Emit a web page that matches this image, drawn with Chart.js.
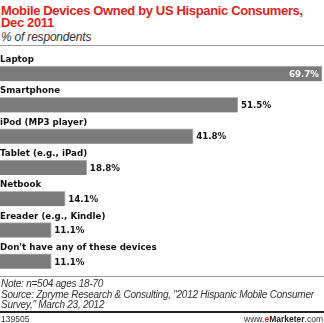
<!DOCTYPE html>
<html>
<head>
<meta charset="utf-8">
<script src="https://cdn.jsdelivr.net/npm/chart.js@4.4.0/dist/chart.umd.min.js"></script>
<style>
  body { margin: 0; background: #fff; width: 324px; height: 323px; position: relative; overflow: hidden; font-family: Verdana, "DejaVu Sans", sans-serif; }
  .abs { position: absolute; white-space: nowrap; }
  #title { left: 1px; top: 5px; color: #e2231a; font: bold 13px "Liberation Sans", Arial, sans-serif; line-height: 12px; letter-spacing: -0.35px; }
  #subtitle { left: 1px; top: 30px; color: #333; font: italic 12px "Liberation Sans", Arial, sans-serif; letter-spacing: -0.2px; }
  #topline { left: 0; top: 45px; width: 324px; height: 1px; background: #999; }
  #chartBox { left: 0; top: 45px; width: 324px; height: 232px; }
  #footline { left: 0; top: 276px; width: 324px; height: 1px; background: #999; }
  #note { left: 1px; top: 279px; color: #333; font: italic 10px "Liberation Sans", Arial, sans-serif; line-height: 10.5px; letter-spacing: -0.25px; }
  #blackline { left: 0; top: 311px; width: 324px; height: 2px; background: #222; }
  #code { left: 1px; top: 314px; color: #333; font: 8.5px "Liberation Sans", Arial, sans-serif; }
  #brand { right: 1px; top: 314px; color: #333; font: 8.5px "Liberation Sans", Arial, sans-serif; }
  #brand b { color: #222; }
  #brand .e { color: #e2231a; font-weight: bold; }
</style>
</head>
<body>
<div class="abs" id="title">Mobile Devices Owned by US Hispanic Consumers,<br>Dec 2011</div>
<div class="abs" id="subtitle">% of respondents</div>
<div class="abs" id="topline"></div>
<div class="abs" id="chartBox"><canvas id="chart"></canvas></div>
<div class="abs" id="footline"></div>
<div class="abs" id="note">Note: n=504 ages 18-70<br>Source: Zpryme Research &amp; Consulting, "2012 Hispanic Mobile Consumer<br>Survey," March 23, 2012</div>
<div class="abs" id="blackline"></div>
<div class="abs" id="code">139505</div>
<div class="abs" id="brand">www.<span class="e">e</span><b>Marketer</b>.com</div>
<script>
// данные из графика
const categories = [
    'Laptop',
    'Smartphone',
    'iPod (MP3 player)',
    'Tablet (e.g., iPad)',
    'Netbook',
    'Ereader (e.g., Kindle)',
    "Don't have any of these devices"
];
const values = [69.7, 51.5, 41.8, 18.8, 14.1, 11.1, 11.1];

const LABEL_FONT = 'bold 8.7px "DejaVu Sans", Verdana, sans-serif';

// подписи категорий над столбцами и значения справа
const barLabels = {
    id: 'barLabels',
    afterDatasetsDraw(chart) {
        const ctx = chart.ctx;
        const meta = chart.getDatasetMeta(0);
        ctx.save();
        ctx.font = LABEL_FONT;
        meta.data.forEach((bar, i) => {
            const h = bar.height;
            ctx.fillStyle = '#111';
            ctx.textAlign = 'left';
            ctx.textBaseline = 'alphabetic';
            ctx.fillText(categories[i], 0, bar.y - h / 2 - 4);

            ctx.textBaseline = 'middle';
            const text = values[i].toFixed(1) + '%';
            const w = ctx.measureText(text).width;
            if (bar.x + 4 + w > chart.chartArea.right) {
                ctx.fillStyle = '#fff';
                ctx.textAlign = 'right';
                ctx.fillText(text, bar.x - 3, bar.y + 1);
            } else {
                ctx.fillStyle = '#111';
                ctx.textAlign = 'left';
                ctx.fillText(text, bar.x + 3, bar.y + 1);
            }
        });
        ctx.restore();
    }
};

new Chart(document.getElementById('chart'), {
    type: 'bar',
    data: {
        labels: categories,
        datasets: [{
            data: values,
            backgroundColor: '#7b7b7b',
            borderColor: '#b4b4b4',
            borderWidth: {top: 1, right: 1, bottom: 0, left: 0},
            borderSkipped: false,
            barThickness: 15
        }]
    },
    options: {
        indexAxis: 'y',
        responsive: true,
        maintainAspectRatio: false,
        animation: false,
        events: [],
        layout: {padding: {top: 13, bottom: 0, left: 0, right: 1}},
        plugins: {legend: {display: false}, tooltip: {enabled: false}},
        scales: {
            x: {display: false, min: 0, max: 69.9},
            y: {display: false}
        }
    },
    plugins: [barLabels]
});
</script>
</body>
</html>
